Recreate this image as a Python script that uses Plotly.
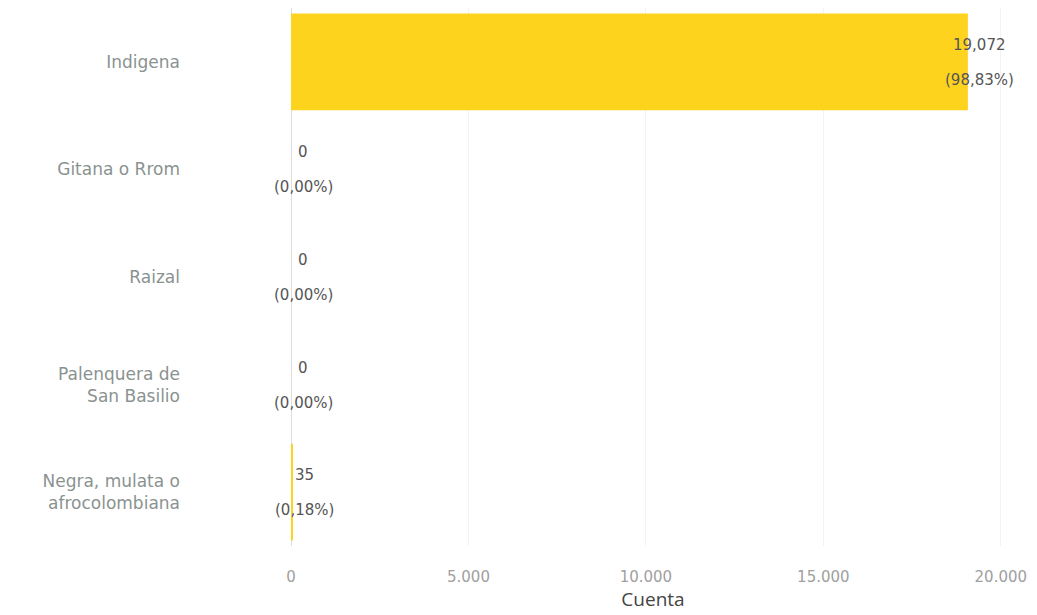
import plotly.graph_objects as go

categories = ["Indigena", "Gitana o Rrom", "Raizal", "Palenquera de<br>San Basilio", "Negra, mulata o<br>afrocolombiana"]
counts = [19072, 0, 0, 0, 35]
count_labels = ["19,072", "0", "0", "0", "35"]
percent_labels = ["(98,83%)", "(0,00%)", "(0,00%)", "(0,00%)", "(0,18%)"]
x_ticks = [0, 5000, 10000, 15000, 20000]

fig = go.Figure()
fig.add_trace(go.Bar(
    x=counts, y=categories, orientation="h",
    marker=dict(color="#FDD31E", line=dict(width=0)),
    width=0.9, hoverinfo="skip",
))

annotations = []
for c, v, cl, pl in zip(categories, counts, count_labels, percent_labels):
    annotations.append(dict(x=v, y=c, xref="x", yref="y", text=cl, showarrow=False,
                            xanchor="center", yanchor="middle", xshift=12, yshift=17,
                            font=dict(family="DejaVu Sans", size=15, color="#555555")))
    annotations.append(dict(x=v, y=c, xref="x", yref="y", text=pl, showarrow=False,
                            xanchor="center", yanchor="middle", xshift=12, yshift=-18,
                            font=dict(family="DejaVu Sans", size=15, color="#555555")))

fig.update_layout(
    width=1029, height=607,
    margin=dict(l=283, r=22, t=0, b=69),
    paper_bgcolor="white", plot_bgcolor="white",
    separators=",.",
    showlegend=False,
    annotations=annotations,
    xaxis=dict(
        range=[0, 20400], tickvals=x_ticks, tickformat=",d",
        showgrid=True, gridcolor="#f3f3f3", gridwidth=1,
        zeroline=True, zerolinecolor="#dddddd", zerolinewidth=1,
        showline=False, ticks="", ticklabelstandoff=20, automargin=False,
        tickfont=dict(family="DejaVu Sans", size=15, color="#a0a0a0"),
        title=dict(text="Cuenta", standoff=0,
                   font=dict(family="Open Sans", size=19, color="#444444")),
    ),
    yaxis=dict(
        autorange="reversed", showgrid=False, zeroline=False, showline=False,
        ticks="", ticklabelstandoff=110, automargin=False,
        tickfont=dict(family="DejaVu Sans", size=17, color="#8a9290"),
    ),
)

fig.write_html("out.html")
